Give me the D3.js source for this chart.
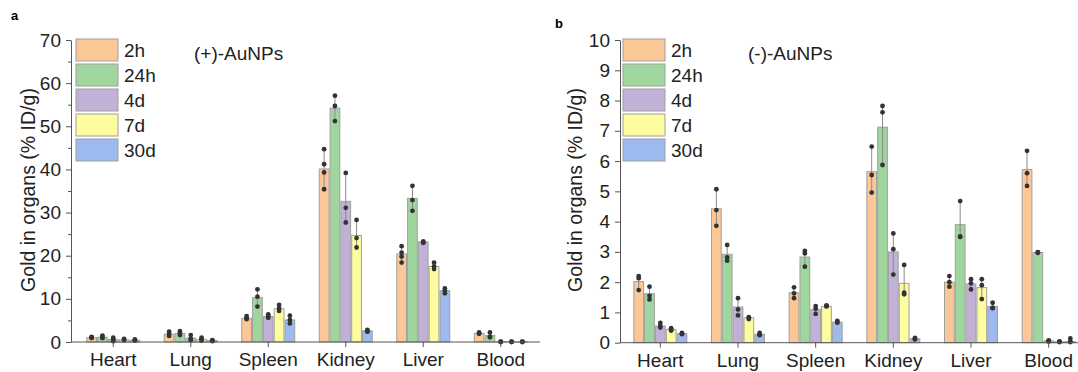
<!DOCTYPE html>
<html>
<head>
<meta charset="utf-8">
<script src="https://cdn.jsdelivr.net/npm/d3@7"></script>
<style>
  body { margin: 0; background: #fff; }
  svg { font-family: "Liberation Sans", Arial, sans-serif; }
</style>
</head>
<body>
<svg id="chart" width="1078" height="372"></svg>
<script>
// categories / series
const organs = ["Heart", "Lung", "Spleen", "Kidney", "Liver", "Blood"];
const times = ["2h", "24h", "4d", "7d", "30d"];
const colors = ["#fcc796", "#9fd69d", "#c2b1d6", "#fdfc9e", "#9cbaee"];

// (+)-AuNPs, bar means per organ (order of times)
const posMeans = [
  [1.0, 1.1, 0.6, 0.5, 0.4],
  [1.8, 2.0, 0.9, 0.6, 0.3],
  [5.5, 10.3, 5.9, 7.7, 5.1],
  [40.1, 54.2, 32.6, 24.7, 2.6],
  [20.4, 33.3, 23.2, 17.5, 11.9],
  [2.0, 1.5, 0.05, 0.05, 0.05]
];
// (+)-AuNPs, individual points
const posPoints = [
  [[1.2, 1.0, 0.9], [1.5, 1.0, 0.9], [1.0, 0.6, 0.2], [0.7, 0.5, 0.4], [0.6, 0.4, 0.3]],
  [[2.4, 1.9, 1.4], [2.5, 2.0, 1.6], [1.6, 0.8, 0.4], [1.0, 0.6, 0.3], [0.4, 0.3, 0.2]],
  [[6.0, 5.6, 5.3], [12.2, 10.5, 8.2], [6.4, 6.0, 5.6], [8.6, 7.8, 7.2], [6.1, 5.1, 4.3]],
  [[44.7, 41.2, 39.3, 35.4], [57.1, 54.7, 51.2], [39.2, 31.1, 27.7], [28.3, 24.1, 21.9], [2.8, 2.5, 2.4]],
  [[22.2, 20.7, 19.8, 18.4], [36.2, 32.9, 30.4], [23.3, 23.1, 23.0], [18.4, 17.5, 16.9], [12.4, 11.9, 11.3]],
  [[2.2, 2.0, 1.9], [2.2, 1.2, 1.1], [0.1, 0.0, 0.05], [0.05, 0.0, 0.1], [0.05, 0.0, 0.1]]
];

// (-)-AuNPs
const negMeans = [
  [2.02, 1.62, 0.55, 0.44, 0.3],
  [4.42, 2.92, 1.18, 0.82, 0.28],
  [1.65, 2.83, 1.1, 1.2, 0.68],
  [5.65, 7.12, 3.0, 1.96, 0.13],
  [2.0, 3.9, 1.94, 1.82, 1.2],
  [5.72, 2.98, 0.06, 0.03, 0.04]
];
const negPoints = [
  [[2.2, 2.13, 1.74], [1.85, 1.55, 1.43], [0.65, 0.55, 0.5], [0.48, 0.42, 0.4], [0.32, 0.3, 0.28]],
  [[5.07, 4.38, 3.86], [3.23, 2.82, 2.71], [1.47, 1.1, 0.9], [0.84, 0.82, 0.78], [0.32, 0.27, 0.25]],
  [[1.83, 1.63, 1.47], [3.03, 2.95, 2.51], [1.21, 1.12, 0.95], [1.23, 1.2, 1.21], [0.72, 0.68, 0.66]],
  [[6.48, 5.54, 4.96], [7.82, 7.61, 5.87], [3.61, 3.09, 2.25], [2.57, 1.65, 1.6], [0.16, 0.12, 0.11]],
  [[2.2, 2.0, 1.85], [4.68, 3.5, 3.5], [2.1, 1.96, 1.76], [2.1, 1.9, 1.44], [1.32, 1.14, 1.15]],
  [[6.34, 5.6, 5.18], [2.99, 2.98, 2.97], [0.08, 0.05, 0.04], [0.03, 0.02, 0.04], [0.14, 0.03, 0.02]]
];

const posTicks = [0, 10, 20, 30, 40, 50, 60, 70];
const posMinor = [5, 15, 25, 35, 45, 55, 65];
const negTicks = [0, 1, 2, 3, 4, 5, 6, 7, 8, 9, 10];

const svg = d3.select("#chart");
svg.append("rect").attr("width", 1078).attr("height", 372).attr("fill", "#fff");

function drawPanel(opt) {
  const g = svg.append("g");
  const x = d3.scaleBand().domain(organs).range(opt.xRange);
  const x1 = d3.scaleBand().domain(times).range([-26.5, 26.5]).paddingInner(0.1);
  const y = d3.scaleLinear().domain(opt.yDomain).range([opt.y0, 40]);

  organs.forEach(function(o, i) {
    const grp = g.append("g").attr("transform", "translate(" + (x(o) + x.bandwidth() / 2) + ",0)");
    // bars
    times.forEach(function(t, j) {
      const v = opt.means[i][j];
      grp.append("rect")
        .attr("x", x1(t))
        .attr("y", y(v))
        .attr("width", x1.bandwidth())
        .attr("height", y(0) - y(v))
        .attr("fill", colors[j])
        .attr("stroke", "#a0a0a0")
        .attr("stroke-width", 1);
    });
    // whiskers (range of points) and points
    times.forEach(function(t, j) {
      const pts = opt.points[i][j];
      const cx = x1(t) + x1.bandwidth() / 2;
      const ext = d3.extent(pts);
      grp.append("line")
        .attr("x1", cx).attr("x2", cx)
        .attr("y1", y(ext[0])).attr("y2", y(ext[1]))
        .attr("stroke", "#8a8a8a").attr("stroke-width", 1);
      grp.selectAll(null)
        .data(pts)
        .enter()
        .append("circle")
        .attr("cx", cx)
        .attr("cy", function(d) { return y(d); })
        .attr("r", 2.4)
        .attr("fill", "#333");
    });
  });

  // x axis
  const xa = g.append("g")
    .attr("transform", "translate(0," + y(0) + ")")
    .call(d3.axisBottom(x).tickSize(5).tickSizeOuter(0).tickPadding(6));
  xa.select(".domain").attr("d", "M" + opt.axisX0 + ",0H" + opt.axisX1).attr("stroke", "#555");
  xa.selectAll(".tick line").attr("stroke", "#555");
  xa.selectAll("text").style("font-size", "19px").attr("fill", "#222");

  // y axis
  const ya = g.append("g")
    .attr("transform", "translate(" + opt.axisX0 + ",0)")
    .call(d3.axisLeft(y).tickValues(opt.ticks).tickFormat(d3.format("d")).tickSize(5).tickSizeOuter(0).tickPadding(5));
  ya.select(".domain").attr("stroke", "#555");
  ya.selectAll(".tick line").attr("stroke", "#555");
  ya.selectAll("text").style("font-size", "19px").attr("fill", "#222");
  if (opt.minor) {
    const ym = g.append("g")
      .attr("transform", "translate(" + opt.axisX0 + ",0)")
      .call(d3.axisLeft(y).tickValues(opt.minor).tickFormat("").tickSize(3).tickSizeOuter(0));
    ym.select(".domain").remove();
    ym.selectAll(".tick line").attr("stroke", "#555");
  }

  // y title
  g.append("text")
    .attr("transform", "translate(" + opt.titleX + ",190)rotate(-90)")
    .attr("text-anchor", "middle")
    .attr("dy", "0.35em")
    .style("font-size", "19.5px")
    .attr("fill", "#222")
    .text("Gold in organs (% ID/g)");

  // legend
  const lg = g.append("g").attr("transform", "translate(" + opt.legendX + ",39)");
  times.forEach(function(t, j) {
    lg.append("rect")
      .attr("x", 0).attr("y", j * 25)
      .attr("width", 42).attr("height", 22)
      .attr("fill", colors[j])
      .attr("stroke", "#a0a0a0");
    lg.append("text")
      .attr("x", 48).attr("y", j * 25 + 11)
      .attr("dy", "0.35em")
      .style("font-size", "19px")
      .attr("fill", "#222")
      .text(t);
  });

  // annotation and panel letter
  g.append("text")
    .attr("x", opt.noteX).attr("y", 60)
    .style("font-size", "19px")
    .attr("fill", "#222")
    .text(opt.note);
  g.append("text")
    .attr("x", opt.letterX).attr("y", opt.letterY)
    .style("font-size", "13px")
    .style("font-weight", "bold")
    .text(opt.letter);
}

drawPanel({
  means: posMeans, points: posPoints, yDomain: [0, 70], y0: 342,
  ticks: posTicks, minor: posMinor,
  xRange: [74.5, 539.5], axisX0: 71, axisX1: 540,
  titleX: 28, legendX: 76, noteX: 194, note: "(+)-AuNPs",
  letter: "a", letterX: 11, letterY: 20
});

drawPanel({
  means: negMeans, points: negPoints, yDomain: [0, 10], y0: 342.7,
  ticks: negTicks, minor: null,
  xRange: [621.5, 1087.5], axisX0: 620, axisX1: 1078,
  titleX: 575, legendX: 623, noteX: 748, note: "(-)-AuNPs",
  letter: "b", letterX: 555, letterY: 28
});
</script>
</body>
</html>
